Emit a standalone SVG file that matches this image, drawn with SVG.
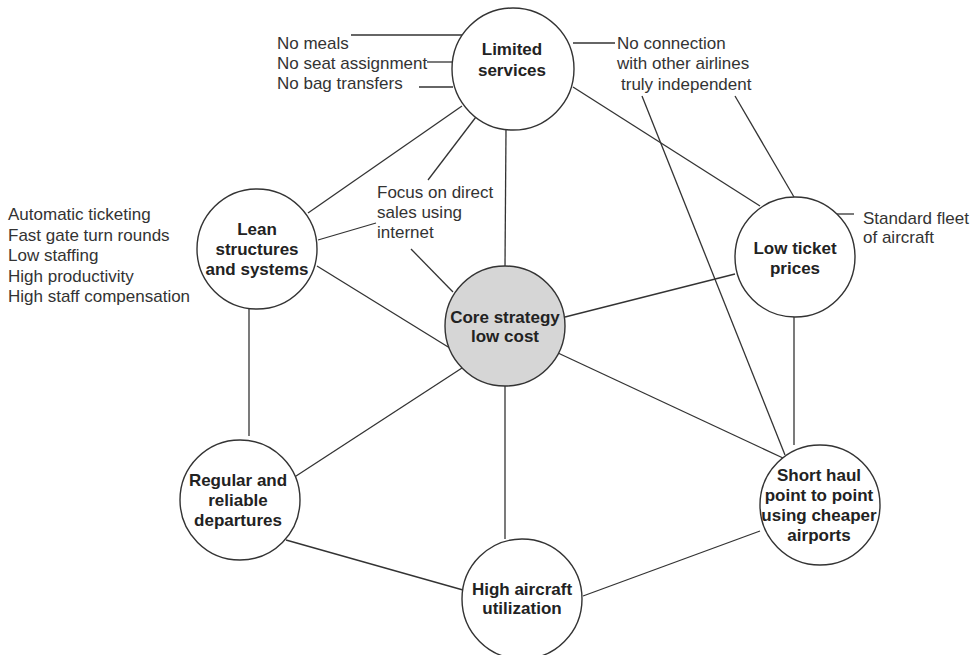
<svg xmlns="http://www.w3.org/2000/svg" width="975" height="655" viewBox="0 0 975 655">
  <style>
    .bg { fill: #ffffff; }
    .node { fill: #ffffff; stroke: #333333; stroke-width: 1.4; }
    .core { fill: #d6d6d6; }
    .title { font-family: "Liberation Sans", Arial, sans-serif; font-size: 17px; font-weight: bold; fill: #222222; text-anchor: middle; }
    .note { font-family: "Liberation Sans", Arial, sans-serif; font-size: 17px; fill: #333333; }
    .links line { stroke: #333333; stroke-width: 1.3; fill: none; }
  </style>
  <rect class="bg" width="975" height="655"/>

  <!-- connectors -->
  <g id="connectors" class="links">
    <!-- hub spokes -->
    <line x1="506" y1="130" x2="505" y2="266"/>
    <line x1="317" y1="266" x2="453" y2="350"/>
    <line x1="565" y1="317" x2="735" y2="274"/>
    <line x1="293" y1="478" x2="462" y2="368"/>
    <line x1="505" y1="386" x2="505" y2="539"/>
    <line x1="558" y1="353" x2="783" y2="458"/>
    <!-- outer ring -->
    <line x1="462" y1="106" x2="308" y2="213"/>
    <line x1="573" y1="87" x2="760" y2="206"/>
    <line x1="249" y1="309" x2="249" y2="436"/>
    <line x1="794" y1="317" x2="794" y2="445"/>
    <line x1="286" y1="540" x2="463" y2="590"/>
    <line x1="583" y1="596" x2="760" y2="531"/>
    <!-- annotation leaders -->
    <line x1="351" y1="35" x2="462" y2="35"/>
    <line x1="427" y1="62" x2="452" y2="62"/>
    <line x1="419" y1="87" x2="453" y2="87"/>
    <line x1="573" y1="43" x2="615" y2="43"/>
    <line x1="642" y1="96" x2="785" y2="455"/>
    <line x1="735" y1="96" x2="794" y2="197"/>
    <line x1="837" y1="214" x2="854" y2="214"/>
    <line x1="479" y1="113" x2="428" y2="180"/>
    <line x1="318" y1="240" x2="376" y2="223"/>
    <line x1="411" y1="249" x2="453" y2="292"/>
  </g>

  <!-- annotations -->
  <g id="notes-services">
    <text class="note" x="277" y="49">No meals</text>
    <text class="note" x="277" y="69">No seat assignment</text>
    <text class="note" x="277" y="89">No bag transfers</text>
  </g>
  <g id="notes-independence">
    <text class="note" x="617" y="49">No connection</text>
    <text class="note" x="617" y="69">with other airlines</text>
    <text class="note" x="621" y="90">truly independent</text>
  </g>
  <g id="notes-sales">
    <text class="note" x="377" y="198">Focus on direct</text>
    <text class="note" x="377" y="218">sales using</text>
    <text class="note" x="377" y="238">internet</text>
  </g>
  <g id="notes-lean">
    <text class="note" x="8" y="220">Automatic ticketing</text>
    <text class="note" x="8" y="241">Fast gate turn rounds</text>
    <text class="note" x="8" y="261">Low staffing</text>
    <text class="note" x="8" y="282">High productivity</text>
    <text class="note" x="8" y="302">High staff compensation</text>
  </g>
  <g id="notes-fleet">
    <text class="note" x="863" y="224">Standard fleet</text>
    <text class="note" x="863" y="243">of aircraft</text>
  </g>

  <!-- nodes -->
  <g id="limited-services">
    <circle class="node" cx="513" cy="69" r="61"/>
    <text class="title" x="512" y="55">Limited</text>
    <text class="title" x="512" y="76">services</text>
  </g>
  <g id="lean-structures">
    <circle class="node" cx="257" cy="249" r="60"/>
    <text class="title" x="257" y="235">Lean</text>
    <text class="title" x="257" y="255">structures</text>
    <text class="title" x="257" y="275">and systems</text>
  </g>
  <g id="core-strategy">
    <circle class="node core" cx="505" cy="326" r="60"/>
    <text class="title" x="505" y="323">Core strategy</text>
    <text class="title" x="505" y="342">low cost</text>
  </g>
  <g id="low-ticket-prices">
    <circle class="node" cx="795" cy="257" r="60"/>
    <text class="title" x="795" y="254">Low ticket</text>
    <text class="title" x="795" y="274">prices</text>
  </g>
  <g id="regular-departures">
    <circle class="node" cx="240" cy="500" r="60"/>
    <text class="title" x="238" y="486">Regular and</text>
    <text class="title" x="238" y="506">reliable</text>
    <text class="title" x="238" y="526">departures</text>
  </g>
  <g id="high-utilization">
    <circle class="node" cx="522" cy="599" r="60"/>
    <text class="title" x="522" y="595">High aircraft</text>
    <text class="title" x="522" y="614">utilization</text>
  </g>
  <g id="short-haul">
    <circle class="node" cx="820" cy="505" r="60"/>
    <text class="title" x="819" y="481">Short haul</text>
    <text class="title" x="819" y="501">point to point</text>
    <text class="title" x="819" y="521">using cheaper</text>
    <text class="title" x="819" y="541">airports</text>
  </g>
</svg>
